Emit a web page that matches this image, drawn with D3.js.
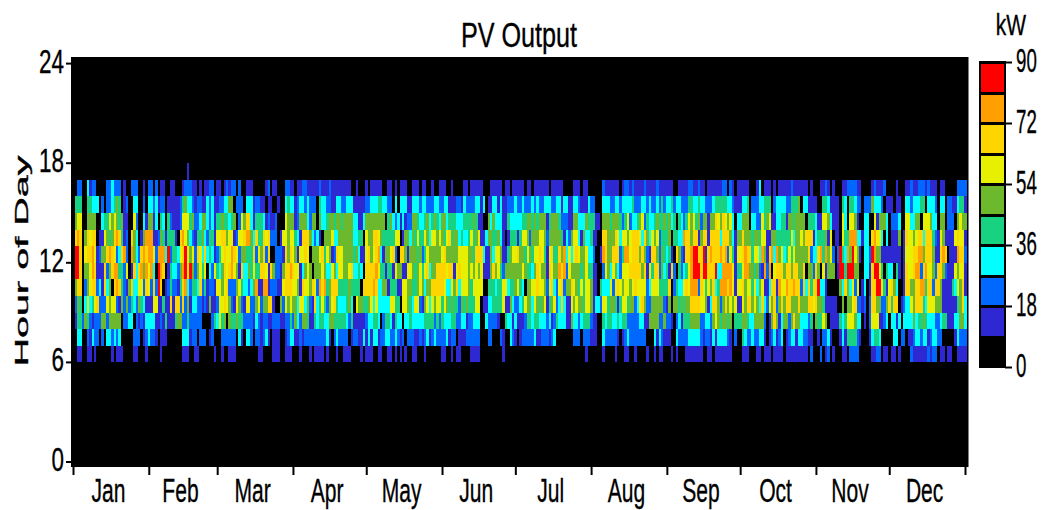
<!DOCTYPE html>
<html><head><meta charset="utf-8">
<script src="https://cdn.jsdelivr.net/npm/d3@7"></script>
<style>html,body{margin:0;padding:0;background:#fff}svg{display:block}text{font-family:"Liberation Sans",Arial,sans-serif;fill:#000;stroke:#000;stroke-width:.35px}</style>
</head><body><svg id="c" width="1041" height="510"></svg>
<script>
// Colour class (0-9, each 9 kW wide) read per day, per hour of day; chunks hold 88, 90, 95 and 92 days.
const hour06 = ["0110011010 0000010111 0000110001 0000010000 0000111001 1000000100 1001110000 0000011000 01110011",
"1000100010 1111010001 0011100001 0111001100 1101010100 1100010000 0011001011 0000111100 0000000100",
"0000000000 0000000000 0000000000 0100000010 0001000110 0100001001 0110001010 0011111110 0110111111 10000",
"1110001101 1101111011 1111111020 0020120100 0110222200 0001122011 0110100002 1111112122 0110110011 11"];
const hour07 = ["0330021322 0203323230 0000222012 3221011100 0000333122 0222012000 2222220310 3320221231 01110012",
"3311212222 2222231023 2222012211 3131331223 3223212022 2112123123 2222312201 1122222200 0220002100",
"3210122222 3112221230 0000002220 2221110032 2222101232 2222220003 1321110032 2223333321 2213133332 10200",
"4322322331 0123123012 3313322110 0102231000 1314444210 0013443000 0033022011 2332331233 2200000132 22"];
const hour08 = ["1442542122 2552555550 2233021213 3331121411 1455224222 2200002436 4505445442 2221321221 12221122",
"4253255411 4344335544 4443241111 1233443024 4314330334 3333344442 4243334422 3312233300 3222210043",
"3131112443 4433323124 3331153323 4442110043 4433434422 2223311555 5225221023 1444555522 3325654554 50444",
"5543355552 0157513552 5755333240 5446501111 4346665330 1026661123 0331303333 5344543332 2344111335 53"];
const hour09 = ["2540363467 2226566215 2524325431 1166114117 1772725133 2212151126 6765216521 6622562557 71005265",
"6553663521 7346425674 3334530655 4456363333 3664406654 3662156365 6646545442 5454446601 1334444611",
"5322346553 6545614562 3731165655 4665133266 4554146645 5236752255 5552150554 5455777766 5137752575 65611",
"6577565373 2657257577 5557555776 7554111110 0505567221 2027755225 7477012336 5777436665 5511111145 73"];
const hour10 = ["5770256772 3173507874 2157336627 6272970124 2214783244 3724122166 5672225643 3235811881 22211677",
"7665176657 6287845777 4444544440 7777873355 1444116655 4456535577 7776336573 6665466660 0444344663",
"4456430556 6766526732 6725576546 4665110433 3626765665 6766662366 6444470243 3676888276 4657348887 86166",
"7566463561 1377186687 7877273747 7933100000 5375362601 3017799641 6753001775 5778847727 7511114365 71"];
const hour11 = ["9970556871 1172578844 2601737858 6830987014 3325896952 5646032643 5767865173 3546447761 75221577",
"8766135650 5556533653 6655673343 0777786441 4416551166 5456467355 7777677167 6665656561 1157564255",
"5555565443 5765517655 8782655554 5644110026 5365326667 7777571647 7253417204 2346899979 9777933888 86144",
"6885545218 2806777577 5775570552 7506155501 9949995500 3317996404 3304101766 7882786652 7752111656 61"];
const hour12 = ["9970677861 2557876237 8208532787 8862888392 4436796562 7637343124 6766876255 4447265727 00222175",
"7651667605 5567465127 6655554531 1675678315 5672077515 5545246555 5567555556 6665547773 1153665114",
"5667554654 6676416744 7583636765 5633200187 5577724886 7775752177 5254341075 2177899779 1787778782 64166",
"7877466385 1783856346 4655555723 3784856202 9438596510 3329855111 1111101666 7788577751 1787011187 72"];
const hour13 = ["7870576770 1165457874 1207530158 8811254144 4107865321 4453244166 7756612667 8853744767 22201665",
"6643177753 2310555633 5555553344 0655776544 4446601553 5464465366 5654674553 4334645611 3554453101",
"4441466525 5566525555 5413256631 5334110077 5557636656 7776375365 6244450443 3877577157 7177773777 53155",
"7555455466 1155444444 6355657771 3444516011 0644888331 3307866303 0111501766 5677377742 1651111676 61"];
const hour14 = ["5660055550 0344656545 1100620031 5513043042 1112666452 2355323144 5443450265 7731444312 11200065",
"5512555325 5053345545 5455553311 3555555550 4532313122 5543345345 4355344433 3444454110 0535333114",
"3333344554 5455514555 4222115533 3544411055 5455542462 3345624334 5445453404 3246564525 5155765765 63033",
"5550332264 5611334415 5455550444 3116653111 0630665100 3300615553 0222300663 3550666533 0550222056 55"];
const hour15 = ["4440044333 0202234540 1200330020 3323122011 1112453321 2211323112 2335502220 3331221101 10010034",
"3312332322 2043322113 3223331111 1223334433 2203033311 3332332223 3223311122 1322223313 0113313112",
"2232232223 2322333223 3133113321 1132200033 3223323333 4222332322 3242334233 2224433433 2223444443 32111",
"3340222334 4402333322 4445033111 1004431111 0430443220 2225333201 1101100332 3334403332 0330221134 41"];
const hour16 = ["0220031220 0002232220 1002220010 2202011001 1000122211 0101122011 0121220200 1110000012 01100022",
"1101122111 1121112111 1111100100 0101111100 1101011100 1110110010 0111001000 0110111110 0011111011",
"0111110110 1111110111 1100001110 1100000021 1111101221 2111121111 2111111001 1112211211 0111111220 21011",
"1110001301 1101011111 2111111010 0011210100 0112222110 0001211120 0001000112 1122212111 0110000022 22"];
const hour17 = ["0000000000 0000000000 0000000000 0000000000 0000001000 0000000000 0000000000 0000000000 00000000",
"", "", ""];
const chunkDays = [88, 90, 95, 92];
const hourRows = [[6,hour06],[7,hour07],[8,hour08],[9,hour09],[10,hour10],[11,hour11],[12,hour12],[13,hour13],[14,hour14],[15,hour15],[16,hour16],[17,hour17]];

const months = ["Jan","Feb","Mar","Apr","May","Jun","Jul","Aug","Sep","Oct","Nov","Dec"];
const monthDays = [31,28,31,30,31,30,31,31,30,31,30,31];
const hourTicks = [0,6,12,18,24];
const kwTicks = [0,18,36,54,72,90];
const palette = ["#000000","#2d28d2","#0068ff","#00ffff","#18d282","#6cb92d","#e6f000","#ffd500","#ffa000","#ff0000"];

// Flatten class strings into kW cells
const cells = [];
for (const [hour, chunks] of hourRows) {
  let start = 0;
  chunks.forEach((s, c) => {
    s.replace(/\s/g,"").split("").slice(0, chunkDays[c]).forEach((ch, i) => {
      cells.push({day: start + i, hour, kw: (+ch) * 9 + 4.5});
    });
    start += chunkDays[c];
  });
}

const svg = d3.select("#c");
const x = d3.scaleLinear().domain([0,365]).range([74.5,966.5]);
const y = d3.scaleLinear().domain([0,24]).range([462,63.6]);
const color = d3.scaleQuantize().domain([0,90]).range(palette);

svg.append("rect").attr("x",71).attr("y",57).attr("width",897.5).attr("height",410).attr("fill","#000");

svg.append("g").attr("shape-rendering","crispEdges").selectAll("rect")
  .data(cells.filter(d => d.kw >= 9)).join("rect")
  .attr("x", d => Math.round(x(d.day)))
  .attr("width", d => Math.round(x(d.day+1)) - Math.round(x(d.day)))
  .attr("y", d => Math.round(y(d.hour+1)))
  .attr("height", d => Math.round(y(d.hour)) - Math.round(y(d.hour+1)))
  .attr("fill", d => color(d.kw));

// tall, condensed lettering of the reference
function squeeze(sel, sx) {
  sel.each(function(){
    const t = d3.select(this);
    const px = +t.attr("x")||0, py = +t.attr("y")||0;
    t.attr("transform", `translate(${px},${py}) scale(${sx},1)`).attr("x",0).attr("y",0);
  });
}

// y axis
const yAxis = d3.axisLeft(y).tickValues(hourTicks).tickSize(5).tickPadding(0).offset(0);
const gy = svg.append("g").attr("transform","translate(71,0)").call(yAxis);
gy.select(".domain").remove();
gy.selectAll("line").attr("stroke","#000").attr("stroke-width",2);
gy.selectAll("text").remove();
svg.append("g").selectAll("text").data(hourTicks).join("text")
  .attr("x",64).attr("y",d => y(d)+9).attr("text-anchor","end").attr("font-size",34)
  .text(d => d).call(squeeze,0.66);

// x axis
let acc = 0; const monthStarts = [0];
monthDays.forEach(n => { acc += n; monthStarts.push(acc); });
const xAxis = d3.axisBottom(x).tickValues(monthStarts).tickSize(8).tickFormat("").offset(-1);
const gx = svg.append("g").attr("transform","translate(0,467)").call(xAxis);
gx.select(".domain").remove();
gx.selectAll("line").attr("stroke","#000").attr("stroke-width",2);
svg.append("g").selectAll("text").data(months).join("text")
  .attr("x",(d,i) => x(monthStarts[i]+monthDays[i]/2)-4).attr("y",502)
  .attr("text-anchor","middle").attr("font-size",34).text(d => d).call(squeeze,0.62);

// title and axis title
svg.append("text").attr("x",519).attr("y",47).attr("text-anchor","middle").attr("font-size",36)
  .text("PV Output").call(squeeze,0.7);
svg.append("text").attr("text-anchor","middle").attr("font-size",19)
  .attr("transform","translate(28,261) rotate(-90) scale(2.08,1)").text("Hour of Day");

// colour bar
const kwY = d3.scaleLinear().domain([0,90]).range([367,62]);
const levels = d3.range(10);
const bar = svg.append("g").attr("shape-rendering","crispEdges");
bar.append("rect").attr("x",979).attr("y",kwY(90)-1).attr("width",27).attr("height",kwY(0)-kwY(90)+2).attr("fill","#000");
bar.selectAll("rect.sw").data(levels).join("rect").attr("class","sw")
  .attr("x",981).attr("width",23)
  .attr("y",d => kwY((d+1)*9)+2).attr("height",d => kwY(d*9)-kwY((d+1)*9)-3)
  .attr("fill",d => palette[d]);
const kwAxis = d3.axisRight(kwY).tickValues(kwTicks).tickSize(7).tickFormat("");
const gk = svg.append("g").attr("transform","translate(1005,0)").call(kwAxis);
gk.select(".domain").remove();
gk.selectAll("line").attr("stroke","#000").attr("stroke-width",2);
svg.append("g").selectAll("text").data(kwTicks).join("text")
  .attr("x",1016).attr("y",d => kwY(d)+10).attr("font-size",34)
  .text(d => d).call(squeeze,0.55);
svg.append("text").attr("x",1011).attr("y",35).attr("text-anchor","middle").attr("font-size",30)
  .text("kW").call(squeeze,0.7);
</script></body></html>
